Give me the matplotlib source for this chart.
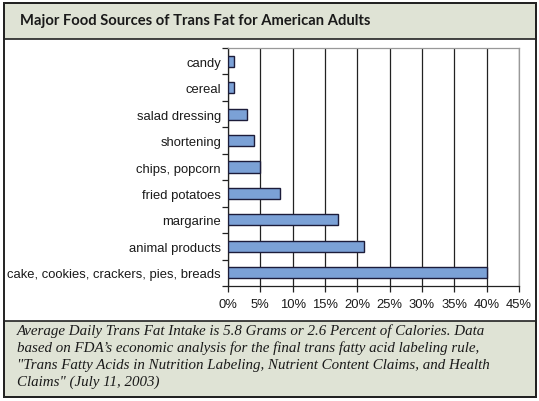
import matplotlib
matplotlib.use("Agg")
import matplotlib.pyplot as plt
from matplotlib.patches import Rectangle
from matplotlib.ticker import FixedLocator, FuncFormatter

categories = ["candy", "cereal", "salad dressing", "shortening", "chips, popcorn",
              "fried potatoes", "margarine", "animal products",
              "cake, cookies, crackers, pies, breads"]
values = [1, 1, 3, 4, 5, 8, 17, 21, 40]
xticks = [0, 5, 10, 15, 20, 25, 30, 35, 40, 45]

title = "Major Food Sources of Trans Fat for American Adults"
caption = ("Average Daily Trans Fat Intake is 5.8 Grams or 2.6 Percent of Calories. Data\n"
           "based on FDA\u2019s economic analysis for the final trans fatty acid labeling rule,\n"
           "\"Trans Fatty Acids in Nutrition Labeling, Nutrient Content Claims, and Health\n"
           "Claims\" (July 11, 2003)")

W, H = 539, 402
fig = plt.figure(figsize=(W / 100, H / 100), dpi=100)
fig.patch.set_facecolor("white")

def fx(px):
    return px / W

def fy(py):
    return 1 - py / H

band = "#dfe3d5"
L, R = 4, 536
fig.patches.append(Rectangle((fx(L), fy(40)), fx(R - L), (40 - 4) / H,
                             transform=fig.transFigure, facecolor=band,
                             edgecolor="#222222", lw=1.2, zorder=0))
fig.patches.append(Rectangle((fx(L), fy(398)), fx(R - L), (398 - 322) / H,
                             transform=fig.transFigure, facecolor=band,
                             edgecolor="#222222", lw=1.2, zorder=0))
fig.patches.append(Rectangle((fx(L), fy(398)), fx(R - L), (398 - 4) / H,
                             transform=fig.transFigure, facecolor="none",
                             edgecolor="#222222", lw=1.4, zorder=1))

fig.text(fx(20), fy(21), title, fontsize=10.6, fontweight="bold",
         family="Lato", color="#1a1a1a", va="center", ha="left")

fig.text(fx(17), fy(324), caption, fontsize=10.8, style="italic",
         family="Liberation Serif", color="#1a1a1a", va="top", ha="left",
         linespacing=1.36)

ax = fig.add_axes([fx(228), fy(287), fx(519 - 228), (287 - 49) / H])
ax.set_facecolor("white")
pos = list(range(len(categories)))
ax.barh(pos, values, height=0.42, color="#7ba1d6", edgecolor="#1c1c3a",
        linewidth=1.0, zorder=3)
ax.set_ylim(len(categories) - 0.5, -0.5)
ax.set_xlim(0, 45)

ax.set_xticks(xticks)
ax.xaxis.set_major_formatter(FuncFormatter(lambda v, p: f"{int(v)}%"))
ax.grid(axis="x", color="#222222", lw=0.9, zorder=1)
ax.set_yticks(pos)
ax.set_yticklabels(categories)
ax.yaxis.set_minor_locator(FixedLocator([i - 0.5 for i in range(len(categories) + 1)]))
ax.tick_params(axis="y", which="major", length=0, pad=5, labelsize=9.4)
ax.tick_params(axis="y", which="minor", length=4, width=0.9, color="#222222", direction="out")
ax.tick_params(axis="x", which="major", length=4, width=0.9, color="#222222",
               direction="out", labelsize=9.4, pad=5)
for lab in ax.get_xticklabels() + ax.get_yticklabels():
    lab.set_family("Liberation Sans")
    lab.set_color("#1a1a1a")

ax.spines["left"].set_color("#222222")
ax.spines["bottom"].set_color("#222222")
ax.spines["top"].set_color("#999999")
ax.spines["right"].set_color("#999999")
for s in ax.spines.values():
    s.set_linewidth(0.9)

fig.savefig("out.png", dpi=100, facecolor="white")
